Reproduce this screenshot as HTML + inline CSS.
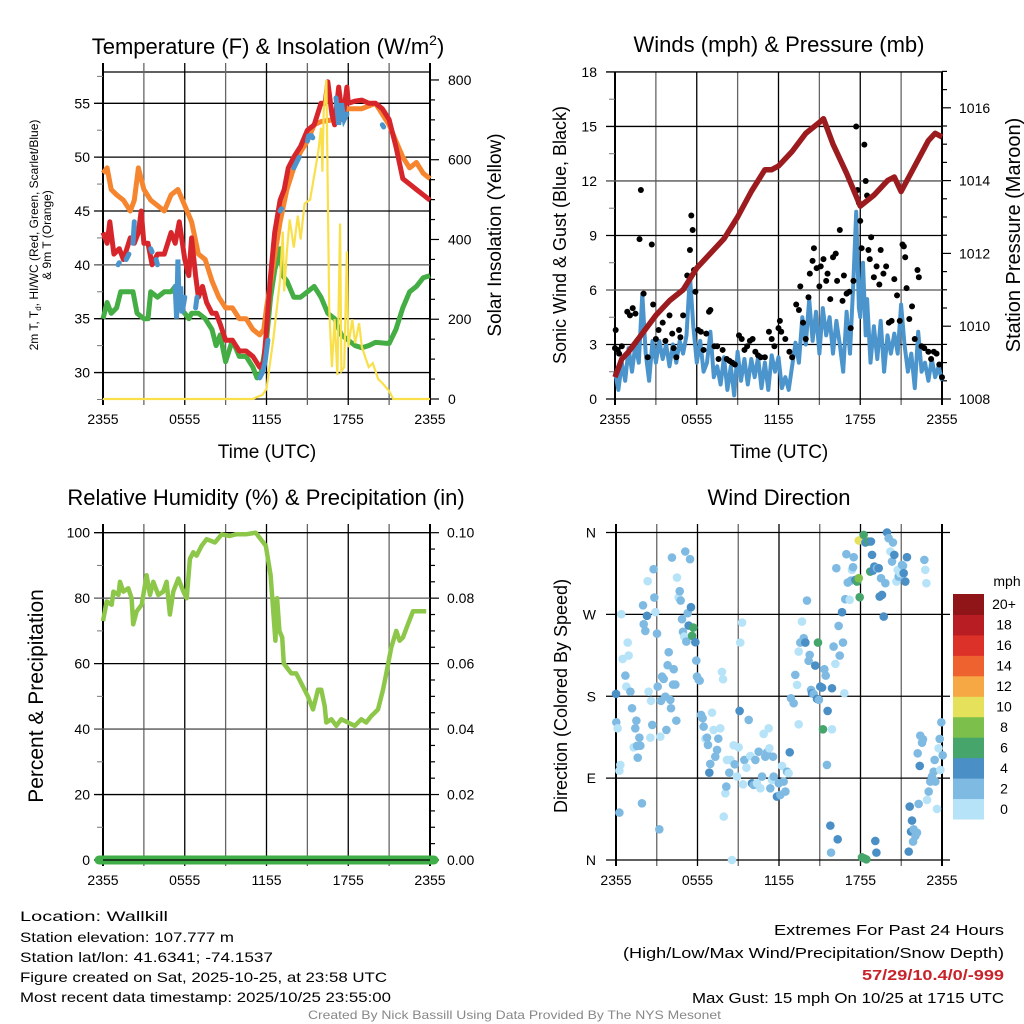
<!DOCTYPE html>
<html><head><meta charset="utf-8"><style>
html,body{margin:0;padding:0;background:#fff;}
svg{display:block;font-family:"Liberation Sans",sans-serif;}
</style></head><body>
<svg id="c" width="1024" height="1024" viewBox="0 0 1024 1024" xmlns="http://www.w3.org/2000/svg">
<text x="268" y="54" font-size="22" text-anchor="middle">Temperature (F) &amp; Insolation (W/m<tspan dy="-9" font-size="14">2</tspan><tspan dy="9">)</tspan></text>
<text x="779" y="52" font-size="22" text-anchor="middle">Winds (mph) &amp; Pressure (mb)</text>
<text x="266" y="505" font-size="22" text-anchor="middle">Relative Humidity (%) &amp; Precipitation (in)</text>
<text x="779" y="505" font-size="22" text-anchor="middle">Wind Direction</text>
<text transform="translate(40,235) rotate(-90)" font-size="12" text-anchor="middle"><tspan x="0" dy="-2">2m T, T<tspan font-size="8" dy="3">d</tspan><tspan dy="-3">, HI/WC (Red, Green, Scarlet/Blue)</tspan></tspan><tspan x="0" dy="13">&amp; 9m T (Orange)</tspan></text>
<text transform="translate(501,235) rotate(-90)" font-size="19" text-anchor="middle">Solar Insolation (Yellow)</text>
<text x="267" y="458" font-size="19" text-anchor="middle">Time (UTC)</text>
<text x="779" y="458" font-size="19" text-anchor="middle">Time (UTC)</text>
<text transform="translate(566,235) rotate(-90)" font-size="18" text-anchor="middle">Sonic Wind &amp; Gust (Blue, Black)</text>
<text transform="translate(1020,235) rotate(-90)" font-size="20" text-anchor="middle">Station Pressure (Maroon)</text>
<text transform="translate(43,696) rotate(-90)" font-size="21" text-anchor="middle">Percent &amp; Precipitation</text>
<text transform="translate(567,696) rotate(-90)" font-size="18" text-anchor="middle">Direction (Colored By Speed)</text>
<g font-size="14">
<text x="20" y="921" textLength="148" lengthAdjust="spacingAndGlyphs">Location: Wallkill</text>
<text x="20" y="942" textLength="214" lengthAdjust="spacingAndGlyphs">Station elevation: 107.777 m</text>
<text x="20" y="962" textLength="253" lengthAdjust="spacingAndGlyphs">Station lat/lon: 41.6341; -74.1537</text>
<text x="20" y="982" textLength="367" lengthAdjust="spacingAndGlyphs">Figure created on Sat, 2025-10-25, at 23:58 UTC</text>
<text x="20" y="1002" textLength="371" lengthAdjust="spacingAndGlyphs">Most recent data timestamp: 2025/10/25 23:55:00</text>
</g>
<g font-size="15">
<text x="774" y="935" textLength="230" lengthAdjust="spacingAndGlyphs">Extremes For Past 24 Hours</text>
<text x="623" y="958" textLength="381" lengthAdjust="spacingAndGlyphs">(High/Low/Max Wind/Precipitation/Snow Depth)</text>
<text x="862" y="980" font-weight="bold" fill="#c8232b" textLength="142" lengthAdjust="spacingAndGlyphs">57/29/10.4/0/-999</text>
<text x="692" y="1003" textLength="312" lengthAdjust="spacingAndGlyphs">Max Gust: 15 mph On 10/25 at 1715 UTC</text>
</g>
<text x="308" y="1019" font-size="12" fill="#888" textLength="413" lengthAdjust="spacingAndGlyphs">Created By Nick Bassill Using Data Provided By The NYS Mesonet</text>
</svg>
<script>
// ---- data (time in hours since 2355) ----
const timeTicks = ["2355","0555","1155","1755","2355"];
const tempTicks = [30,35,40,45,50,55];
const solarTicks = [0,200,400,600,800];
const windTicks = [0,3,6,9,12,15,18];
const presTicks = [1008,1010,1012,1014,1016];
const rhTicks = [0,20,40,60,80,100];
const precipTicks = ["0.00","0.02","0.04","0.06","0.08","0.10"];
const dirTicks = ["N","E","S","W","N"];
const speedLabels = ["0","2","4","6","8","10","12","14","16","18","20+"];

const redT = [0,0.3,0.5,0.8,1.2,1.5,2,2.3,2.6,2.8,3,3.3,3.6,4,4.5,5,5.3,5.6,6,6.3,6.5,6.8,7,7.3,7.6,8,8.3,8.6,9,9.5,10,10.5,11,11.5,11.8,12,12.3,12.6,13,13.3,13.6,14,14.5,15,15.5,16,16.3,16.5,16.8,17,17.3,17.6,17.9,18,18.5,19,19.5,20,20.5,21,21.5,22,22.5,23,23.5,24];
const redV = [43,42,44,41,41.5,40.5,42.5,42,43,45,42,42,40,41,41,43,42,44,40.5,39,42.5,39,37,38,36.5,35.5,35.5,34.5,33,33,32,32,31.5,30.5,31,34,39,43,46,47,49,50,51,52.5,53,55,55,57,54,53,56.5,53.5,56.5,55,55.2,55.3,55,55,54.5,53.5,51,48,47.5,47,46.5,46];
const orangeT = [0,0.3,0.6,1,1.5,2,2.3,2.6,3,3.5,4,4.5,5,5.5,6,6.5,7,7.5,8,8.5,9,9.5,10,10.5,11,11.5,11.8,12,12.5,13,13.5,14,14.5,15,15.5,16,17,17.5,18,19,20,20.5,21,21.5,22,22.5,23,23.5,24];
const orangeV = [48.5,49,47,46.5,46,45,46,49,47,46,45.5,45,46.5,47,45.5,44,41,40.5,38.5,37,36,36,35,35,34,33.5,34,36,40,44,47,49,50.5,51.5,53,53.3,53.5,54,54.5,54.5,55,54,53,51.5,50,49,49.5,48.5,48];
const greenT = [0,0.3,0.6,1,1.3,1.8,2.2,2.5,3,3.3,3.5,4,4.5,5,5.3,5.6,6,6.3,6.5,7,7.5,8,8.3,8.6,9,9.5,10,10.5,11,11.3,11.6,12,12.3,12.6,13,13.2,13.5,14,14.5,15,15.5,16,16.5,17,17.5,18,18.5,19,19.5,20,21,21.5,22,22.5,23,23.5,24];
const greenV = [35,36.5,35.5,36,37.5,37.5,37.5,35.5,35,35,37.5,37,37.5,37.5,38,36,35.5,35,35.5,35.5,35,34,32.5,33.5,31,33,31.5,31.5,30.5,29.5,30,33,37,39.5,41.5,39,38.5,37,37,37.5,38,37,35.5,35,33.5,33,32.5,32.3,32.5,32.8,32.7,34,36,37.5,38,38.8,39];
const blueSegT = [[1.1,1.2],[1.7,1.9],[2.2,2.3],[3.5,3.6],[3.9,4.0],[5.3,5.4,5.5,5.6,5.7,5.8,6.0],[6.8,6.9],[11.5,11.7,11.9,12.1],[13.0,13.1],[14.0,14.2,14.4],[15.0,15.1],[15.3,15.4],[17.1,17.3,17.5,17.7,17.9],[20.5,20.6]];
const blueSegV = [[40,40.2],[40.5,41],[42,44],[41.5,41.2],[40.5,40],[38,35,40.5,36,38,35.5,37],[36,37],[29.5,30,31,33],[45,45.2],[49,49.5,50],[51.5,52],[52,51.8],[55.5,53,55,53.5,54],[53,52.8]];
const solarT = [0,11,11.3,11.7,12,12.5,13,13.2,13.3,13.5,13.7,14,14.3,14.5,14.8,15.2,15.5,15.8,16,16.1,16.2,16.4,16.6,16.8,17,17.2,17.4,17.5,17.7,17.9,18,18.3,18.5,18.8,19,19.5,19.8,20.2,20.5,21,21.3,24];
const solarV = [0,0,5,10,25,150,300,420,270,370,450,380,460,400,490,500,560,620,680,570,720,800,230,80,200,60,440,70,80,370,130,200,140,190,130,80,90,50,40,20,0,0];

const presT = [0,0.5,1,2,3,4,5,6,7,8,9,10,11,11.5,12,13,14,15,15.3,16,17,18,19,20,20.5,21,22,23,23.5,24];
const presV = [1008.6,1009.1,1009.3,1009.8,1010.3,1010.7,1011.0,1011.6,1012.0,1012.4,1013.0,1013.7,1014.3,1014.3,1014.4,1014.8,1015.3,1015.6,1015.7,1015.0,1014.2,1013.3,1013.6,1014.0,1014.1,1013.7,1014.4,1015.1,1015.3,1015.2];
const windT = [0,.25,.5,.75,1,1.25,1.5,1.75,2,2.25,2.5,2.75,3,3.25,3.5,3.75,4,4.25,4.5,4.75,5,5.25,5.5,5.75,6,6.25,6.5,6.75,7,7.25,7.5,7.75,8,8.25,8.5,8.75,9,9.25,9.5,9.75,10,10.25,10.5,10.75,11,11.25,11.5,11.75,12,12.25,12.5,12.75,13,13.25,13.5,13.75,14,14.25,14.5,14.75,15,15.25,15.5,15.75,16,16.25,16.5,16.75,17,17.25,17.5,17.7,17.9,18,18.2,18.4,18.5,18.75,19,19.25,19.5,19.75,20,20.25,20.5,20.75,21,21.25,21.5,21.75,22,22.25,22.5,22.75,23,23.25,23.5,23.75,24];
const windV = [1.5,0.5,2.0,1.0,2.8,1.5,3.0,2.0,5.8,2.5,1.0,3.2,2.0,3.2,2.2,3.0,1.8,3.0,2.0,3.2,2.5,3.5,6.8,4.0,2.0,3.2,1.5,2.0,3.7,1.2,1.8,0.8,2.3,0.5,1.8,0.2,2.6,1.0,2.2,0.8,2.2,1.2,2.3,0.6,2.0,0.5,2.4,1.5,2.3,0.6,1.2,0.5,1.8,3.1,2.0,4.5,3.0,5.5,3.2,4.8,2.5,5.0,3.5,4.5,2.5,4.3,3.0,1.5,4.8,2.5,6.5,10.3,5.0,4.5,7.5,3.5,5.5,2.0,4.0,2.2,4.3,1.5,3.5,2.5,3.6,2.5,5.2,3.0,1.5,2.5,0.6,3.7,1.5,2.0,1.0,2.2,1.2,1.8,1.0];
const gustT = [0,0.05,0.2,0.3,0.5,0.9,1.1,1.3,1.5,1.9,1.8,2.1,2.4,2.7,2.8,3.0,3.2,3.5,3.7,4.0,4.2,4.3,4.5,4.7,4.8,5.0,5.3,5.5,5.6,5.7,5.8,5.9,6.1,6.3,6.5,6.7,6.9,7.0,7.3,7.5,7.6,7.9,8.2,8.4,8.6,8.8,9.1,9.3,9.5,9.7,9.9,10.1,10.3,10.5,10.7,11.0,11.3,11.5,11.7,12.0,12.1,12.2,12.5,12.8,13.0,13.3,13.5,13.6,13.8,14.0,14.2,14.3,14.5,14.6,14.8,15.0,15.1,15.3,15.5,15.6,15.8,16.0,16.2,16.3,16.5,16.7,16.8,17.0,17.2,17.3,17.5,17.6,17.7,17.8,17.9,18.0,18.1,18.3,18.4,18.5,18.6,18.7,18.8,19.0,19.2,19.4,19.5,19.7,19.9,20.1,20.3,20.5,20.7,20.9,21.1,21.2,21.3,21.4,21.6,21.8,22.0,22.2,22.3,22.5,22.7,23.0,23.2,23.4,23.6,23.8,24.0];
const gustV = [2.8,3.8,2.7,2.5,2.9,4.8,4.6,5,4.7,11.5,8.8,5.8,2.3,8.5,5.2,3.3,3.8,4.2,3.2,4.6,3.6,2.8,2.3,3.8,3.4,4.6,6.8,8.2,10.1,9.3,7.1,5.9,3.8,3.7,2.7,3.6,4.8,4.9,2.9,2.9,2.2,2.7,2.2,2.1,2.0,1.9,3.5,3.3,2.7,2.9,3.2,3.3,2.6,2.4,2.3,2.3,3.7,3.3,2.9,3.9,4.3,3.7,3.3,2.6,2.3,5.2,4.9,6.2,4.2,3.3,5.6,6.9,7.6,8.3,7.2,6.2,7.3,7.7,6.5,6.9,5.5,7.8,8.0,6.5,9.3,5.4,6.8,5.8,5.9,3.9,6.5,11.4,15,11.5,10.8,9.8,8.3,14,12,11.2,8.2,7.7,8.9,6.7,7.3,6.3,8.2,6.9,7.3,4.2,4.3,6.6,5.7,4.3,8.5,8.4,7.8,6.1,4.4,5.1,3.3,7.1,6.7,2.9,2.8,2.6,2.2,2.6,2.5,1.9,1.2];

const rhT = [0,0.27,0.64,0.76,1.13,1.25,1.49,1.86,2.1,2.22,2.47,2.84,3.2,3.45,3.69,4.06,4.42,4.67,4.91,5.16,5.53,5.9,6.14,6.38,6.63,6.87,7.24,7.6,8.22,8.71,9.3,9.74,10.48,11.21,11.95,12.3,12.65,12.78,12.95,13.15,13.27,13.45,13.82,14.18,14.67,15.04,15.41,15.78,16.02,16.27,16.39,16.76,17.12,17.49,17.98,18.47,18.96,19.32,19.69,19.94,20.18,20.55,20.79,21.16,21.53,21.77,22.02,22.38,22.75,23.12,23.48,23.72];
const rhV = [73,79,78,82,81,85,82,83,80,72,76,78,87,81,85,81,82,85,75,82,86,82,80,92,94,93,96,98,97,99.5,99,99.5,99.5,100,96,87,67,80,70,68,60,59,57,57,53,50,46,52,52,47,42,43,41,43,42,41,43,42,44,45,46,52,57,65,70,67,68,72,76,76,76,76];

const dirT = [0,0.02,0.12,0.25,0.32,0.25,0.39,0.49,0.69,0.76,0.93,0.86,1.06,1.18,1.42,1.5,1.72,1.3,1.55,1.79,1.6,1.91,1.99,2.04,2.16,2.28,2.33,2.4,2.53,2.58,2.67,2.77,2.82,2.9,3.02,3.07,3.19,3.26,3.31,3.39,3.51,3.63,3.71,3.8,3.88,4.0,4.05,4.12,4.2,4.25,4.37,4.44,4.49,4.61,4.69,4.76,4.86,4.93,5.03,5.1,5.18,5.28,5.35,5.45,5.52,5.6,5.69,5.84,5.91,5.96,6.09,6.16,6.26,6.38,6.45,6.58,6.7,6.77,6.87,6.94,7.07,7.19,7.31,7.44,7.53,7.68,7.8,7.88,7.93,8.05,8.12,8.17,8.34,8.42,8.54,8.66,8.74,8.91,9.03,9.15,9.1,9.28,9.35,9.45,9.6,9.77,9.89,10.01,10.13,10.26,10.38,10.5,10.63,10.75,10.87,10.99,11.12,11.24,11.29,11.36,11.48,11.56,11.61,11.85,11.98,12.1,12.22,12.34,12.47,12.59,12.71,12.79,12.88,13.08,13.2,13.33,13.45,13.45,13.57,13.69,13.82,13.94,14.06,14.18,14.26,14.36,14.43,14.55,14.67,14.8,14.87,14.94,15.04,15.17,15.24,15.34,15.44,15.53,15.58,15.78,15.83,15.9,15.9,16.02,16.15,16.22,16.32,16.47,16.39,16.64,16.71,16.81,16.88,16.96,17.06,17.2,17.3,17.37,17.45,17.5,17.62,17.74,17.87,17.87,17.94,18.11,18.23,18.28,18.43,18.36,18.6,18.72,18.77,18.92,18.85,19.02,19.09,19.17,19.21,19.34,19.41,19.51,19.58,19.71,19.83,19.95,20.07,20.2,20.32,20.39,20.49,20.64,20.74,20.81,20.93,21.06,21.13,21.18,21.3,21.42,21.55,21.62,21.72,21.79,21.91,21.87,22.04,22.16,22.21,22.28,22.36,22.4,22.53,22.6,22.7,22.77,22.85,22.9,23.02,23.14,23.26,23.39,23.46,23.51,23.63,23.75,23.83,23.88,23.95,24.05];
const dirV = [182.6,151.4,144.8,98.2,104.5,52.1,270.2,221,202.7,190.6,224.7,239,185.1,166.8,144.8,153.2,134.5,123.9,125.4,125.7,112.5,62.3,280,259.2,251.8,268.4,306.5,185.1,134.5,174.9,148.5,319.7,288.5,272.4,248.9,190.6,33.7,135.6,174.9,201.6,199,179.6,143,214.1,228.4,176,166.8,332.5,192.8,209.7,192.8,153.2,310.5,288.5,295.5,285.2,264.7,250.8,245.6,339.1,240.1,271.3,257.7,330.7,277.9,246.4,255.5,239.4,219.2,201.6,198,197.2,159.5,155.8,146.6,133.4,134.5,126.5,96,105.6,162,143,113.6,121,133.4,144.8,206.8,198.7,47.7,73.3,80.7,110,96,110,0,126.1,105.2,91.7,123.9,239,163.9,261,83.2,110,101.5,154,114.4,84.3,82.5,110,84.3,119.1,78.8,91.7,138.6,113.6,118.4,144.8,122.8,78.8,88,113.6,91.7,69.7,84.3,71.5,103.4,86.2,75.2,97.1,95.3,118.4,177.8,172.3,203.5,192.5,149.2,229.1,239,262.1,243.8,239,285.2,218.9,225.5,187,183.3,182.6,213.7,177.1,239,176,190.6,189.5,143.7,209.7,202.7,104.5,163.9,37.8,8.1,188.8,143.7,234.6,215.6,320.8,22.7,224.7,257.3,272.4,239,183.3,286.7,336.2,305,286,307.2,318.9,321.9,332.9,307.9,306.1,351.2,309.8,288.9,2.9,357.4,1.8,0.7,349,350.1,317.1,350.1,318.2,335.4,322.6,20.9,8.1,320.8,320.8,289.6,309.8,291.4,267.6,304.3,360,353.8,339.1,328.1,349,335.4,306.1,318.9,311.6,315.3,324.4,323.3,315.3,306.1,332.9,9.2,58.7,31.2,43.3,33.7,20.2,26.4,30.1,117.3,61.6,103.4,136.7,129,132.7,329.9,318.9,304.3,66,75.2,86.2,91.7,97.1,110,86.2,56.1,122.8,133.1,99,151.4,115.1];
const dirS = [5,3,1,1,1,3,1,1,3,1,1,1,3,3,3,3,3,1,3,3,3,3,3,3,3,5,1,1,1,1,3,3,3,1,3,3,3,1,3,3,3,3,3,3,3,3,3,3,3,3,3,3,1,1,3,3,3,3,1,3,3,3,5,3,5,7,7,5,3,3,3,3,3,3,3,1,3,3,5,3,1,1,3,3,3,1,1,1,1,1,3,1,3,1,1,1,3,1,1,1,5,1,1,3,1,3,1,5,3,3,1,3,1,3,1,3,3,1,1,3,1,3,3,5,3,3,1,3,3,3,1,5,3,3,3,1,1,1,3,1,3,5,3,3,3,3,5,3,5,5,7,3,5,5,7,3,3,3,5,5,3,5,1,3,1,3,5,3,3,5,3,1,3,3,3,1,3,1,3,3,5,7,11,9,7,7,7,7,7,5,7,7,5,5,5,5,5,5,3,5,5,3,5,5,3,5,3,1,3,3,5,1,1,3,1,3,3,5,5,5,5,5,5,5,3,3,3,3,3,3,5,3,3,3,3,1,1,1,3,3,3,3,3,3,1,1,3,1,3,3,3,1,3,3,1,1,1,1,1];
const speedColors = ["#b6e3f8","#7fbae3","#4a8fc5","#45a56a","#7cc04b","#e6e15b","#f6a844","#ee6230","#dc3128","#b81d24","#8f1519"];

// ---- drawing ----
const NS="http://www.w3.org/2000/svg";
const svg=document.getElementById('c');
function mk(tag,attrs,parent){const e=document.createElementNS(NS,tag);for(const k in attrs)e.setAttribute(k,attrs[k]);(parent||svg).appendChild(e);return e;}
function txt(x,y,s,size,anchor,parent){const t=mk('text',{x:x,y:y,'font-size':size,'text-anchor':anchor||'middle'},parent);t.textContent=s;return t;}
function linePath(ts,vs,sx,sy){let d='';for(let i=0;i<ts.length;i++){d+=(i?'L':'M')+sx(ts[i]).toFixed(1)+','+sy(vs[i]).toFixed(1);}return d;}

function frame(g,x0,x1,yT,yB,vgridTop){
  // vertical grid every 3h
  for(let k=0;k<=8;k++){const x=x0+k*(x1-x0)/8;
    const l=mk('line',{x1:x,x2:x,y1:vgridTop,y2:yB+6,stroke:(k%2?'#666':'#000'),'stroke-width':k==0||k==8?2:1.3},g);
    
    }
  for(let k=0;k<timeTicks.length;k++){const t=txt(x0+k*(x1-x0)/4,yB+25,timeTicks[k],14,'middle',g);
    
    }
}
function hgrid(g,x0,x1,y,col){const l=mk('line',{x1:x0-9,x2:x1,y1:y,y2:y,stroke:col||'#000','stroke-width':1.3},g);
  
  }
function rtick(g,x1,y,len){mk('line',{x1:x1,x2:x1+len,y1:y,y2:y,stroke:'#000','stroke-width':1.2},g);}
function ltick(g,x0,y){mk('line',{x1:x0-6,x2:x0,y1:y,y2:y,stroke:'#777','stroke-width':1},g);}

// Panel 1
(function(){
  const g=mk('g',{});  
  const x0=103,x1=430,yT=72,yB=399;
  const sx=t=>x0+t/24*(x1-x0), sy=v=>103.3+(55-v)*10.77, sS=v=>399-v*0.3988;
  mk('line',{x1:x0,x2:x1,y1:yT,y2:yT,stroke:'#000','stroke-width':1.3},g);
  mk('line',{x1:x0,x2:x1,y1:yB,y2:yB,stroke:'#000','stroke-width':1.3},g);
  frame(g,x0,x1,yT,yB,63);
  for(let v=27.5;v<58;v+=2.5){ltick(g,x0,sy(v));}
  tempTicks.forEach((v,i)=>{hgrid(g,x0,x1,sy(v),v==40?'#555':'#000');const t=txt(x0-13,sy(v)+5,String(v),14,'end',g);
    
    });
  for(let v=0;v<=800;v+=50){rtick(g,x1,sS(v),v%200==0?9:5);}
  solarTicks.forEach(v=>{const t=txt(x1+18,sS(v)+5,String(v),14,'start',g);
    
    });
  const gr=mk('path',{d:linePath(greenT,greenV,sx,sy),fill:'none',stroke:'#44ad44','stroke-width':5,'stroke-linejoin':'round'},g);
   
  const or=mk('path',{d:linePath(orangeT,orangeV,sx,sy),fill:'none',stroke:'#f5862f','stroke-width':5,'stroke-linejoin':'round'},g);
   
  const rd=mk('path',{d:linePath(redT,redV,sx,sy),fill:'none',stroke:'#d7262b','stroke-width':5,'stroke-linejoin':'round'},g);
   
  blueSegT.forEach((ts,i)=>{const b=mk('path',{d:linePath(ts,blueSegV[i],sx,sy),fill:'none',stroke:'#4b94cc','stroke-width':5,'stroke-linecap':'round'},g);
     });
  const so=mk('path',{d:linePath(solarT,solarV,sx,sS),fill:'none',stroke:'#f9e04b','stroke-width':2.2},g);
   
})();

// Panel 2
(function(){
  const g=mk('g',{});  
  const x0=615,x1=942,yT=72,yB=399;
  const sx=t=>x0+t/24*(x1-x0), sy=v=>399-v*18.17, sP=v=>399-(v-1008)*36.4;
  frame(g,x0,x1,yT,yB,72);
  for(let v=1.5;v<18;v+=3){ltick(g,x0,sy(v));}
  windTicks.forEach(v=>{hgrid(g,x0,x1,sy(v),(v==6||v==12)?'#555':'#000');const t=txt(x0-18,sy(v)+5,String(v),14,'end',g);
     });
  for(let v=1008;v<=1017;v+=0.5){rtick(g,x1,sP(v),v%2==0?9:5);}
  presTicks.forEach(v=>{const t=txt(x1+17,sP(v)+5,String(v),14,'start',g);
     });
  const w=mk('path',{d:linePath(windT,windV,sx,sy),fill:'none',stroke:'#4b94cc','stroke-width':4,'stroke-linejoin':'round'},g);
   
  gustT.forEach((t,i)=>{const c=mk('circle',{cx:sx(t),cy:sy(gustV[i]),r:3,fill:'#000'},g);
    
    });
  const p=mk('path',{d:linePath(presT,presV,sx,sP),fill:'none',stroke:'#9b1b1e','stroke-width':5.5,'stroke-linejoin':'round'},g);
   
})();

// Panel 3
(function(){
  const g=mk('g',{});  
  const x0=103,x1=430,yT=533,yB=860;
  const sx=t=>x0+t/24*(x1-x0), sy=v=>860-v*3.273;
  frame(g,x0,x1,yT,yB,524);
  for(let v=10;v<100;v+=20){ltick(g,x0,sy(v));}
  for(let v=0;v<=100;v+=5){rtick(g,x1,sy(v),v%20==0?9:5);}
  rhTicks.forEach((v,i)=>{hgrid(g,x0,x1,sy(v),(v==40||v==80)?'#555':'#000');const t=txt(x0-13,sy(v)+5,String(v),14,'end',g);
     
    const r=txt(x1+17,sy(v)+5,precipTicks[i],14,'start',g);
     });
  const pr=mk('line',{x1:x0-4,x2:x1+4,y1:sy(0),y2:sy(0),stroke:'#3fae49','stroke-width':9,'stroke-linecap':'round'},g);
   
  mk('line',{x1:x0,x2:x1,y1:sy(0),y2:sy(0),stroke:'#000','stroke-width':1.2},g);
  const h=mk('path',{d:linePath(rhT,rhV,sx,sy),fill:'none',stroke:'#8dc74a','stroke-width':4.5,'stroke-linejoin':'round'},g);
   
})();

// Panel 4
(function(){
  const g=mk('g',{});  
  const x0=616,x1=942,yT=533,yB=860;
  const sx=t=>x0+t/24*(x1-x0), sy=v=>860-v*0.9097;
  frame(g,x0,x1,yT,yB,524);
  dirTicks.forEach((s,i)=>{const y=sy(i*90);
    mk('line',{x1:x0-10,x2:x1+8,y1:y,y2:y,stroke:'#000','stroke-width':1.3},g);
    const t=txt(x0-20,y+5,s,14,'end',g);
     });
  dirT.forEach((t,i)=>{const b=Math.min(10,Math.floor(dirS[i]/2));
    const c=mk('circle',{cx:sx(t),cy:sy(dirV[i]),r:4.3,fill:speedColors[b]},g);
    
    });
  // colorbar
  const cb=mk('g',{},g);  
  const h=(819-594)/11;
  for(let i=0;i<11;i++){const y=819-(i+1)*h;
    const r=mk('rect',{x:953,y:y,width:31,height:h+0.5,fill:speedColors[i]},cb);
     
    const t=txt(1004,y+h/2+5,speedLabels[i],14,'middle',cb);
     }
  const u=txt(1007,586,'mph',14,'middle',cb);
   
})();
</script>
</body></html>
